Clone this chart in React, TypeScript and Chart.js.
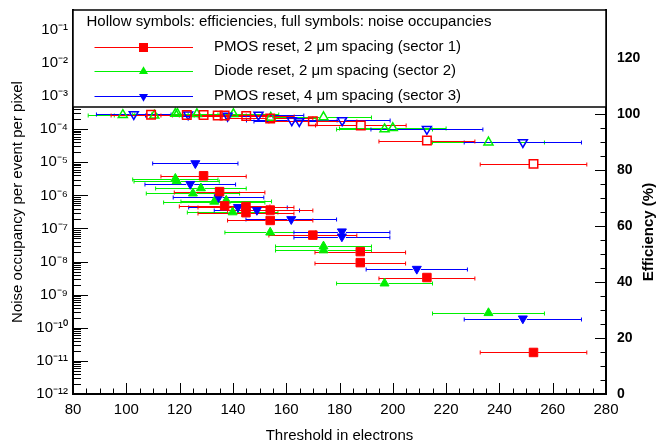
import React, { useEffect, useRef } from 'react';
import { Chart, registerables } from 'chart.js';

Chart.register(...registerables);

const FONT = "'Liberation Sans', Arial, Helvetica, sans-serif";

// ---- axis ticks ----
const xTickValues = [80, 100, 120, 140, 160, 180, 200, 220, 240, 260, 280];
const noiseTickExponents = [-12, -11, -10, -9, -8, -7, -6, -5, -4, -3, -2, -1];
const effTickValues = [0, 20, 40, 60, 80, 100, 120];

// ---- sector 1: PMOS reset, 2 um ----
const redNoiseX = [129, 135, 136.9, 144.9, 144.9, 154, 154, 170, 187.8, 187.8, 212.8, 252.8];
const redNoiseErr = [16, 17, 17, 18, 18, 16, 16, 16.5, 17, 17, 18, 20];
const redNoise = [3.9e-6, 1.3e-6, 4.8e-7, 4.6e-7, 3.0e-7, 3.6e-7, 1.75e-7, 6.3e-8, 2.0e-8, 9.3e-9, 3.3e-9, 1.8e-11];
const redEffX = [109.3, 122.7, 129, 134.3, 136.9, 145, 154, 170, 188, 212.8, 252.8];
const redEffErr = [15, 15, 16, 17, 17, 18, 16, 16.5, 17, 18, 20];
const redEff = [99.6, 99.5, 99.5, 99.4, 99.4, 99.2, 98.3, 97.3, 95.8, 90.4, 82.1];

// ---- sector 2: Diode reset, 2 um ----
const greenNoiseX = [118.4, 118.9, 128, 125, 133, 137.5, 139.9, 154, 174, 174, 196.9, 235.9];
const greenNoiseErr = [16, 16, 17, 17.5, 19, 17, 17, 17, 18, 18, 18, 21];
const greenNoise = [3.2e-6, 2.7e-6, 1.65e-6, 1.15e-6, 6.5e-7, 7.0e-7, 3.1e-7, 7.6e-8, 2.9e-8, 2.2e-8, 2.2e-9, 2.8e-10];
const greenEffX = [98.7, 110.5, 118.4, 119.2, 126.5, 140.2, 154.2, 174, 196.9, 200, 235.9];
const greenEffErr = [13, 15, 16, 16, 17, 17, 17, 18, 18, 20, 21];
const greenEff = [99.6, 99.4, 100, 100, 99.9, 99.9, 98.6, 98.8, 94.5, 94.9, 89.8];

// ---- sector 3: PMOS reset, 4 um ----
const blueNoiseX = [125.9, 124, 134.6, 141.9, 149, 161.9, 180.9, 180.9, 209, 248.8];
const blueNoiseErr = [16, 17, 17, 18.5, 16, 17, 18, 18, 19, 22];
const blueNoise = [9.3e-6, 2.2e-6, 8.7e-7, 4.4e-7, 3.6e-7, 1.9e-7, 8.1e-8, 5.7e-8, 6.0e-9, 1.9e-10];
const blueEffX = [102.8, 123.2, 138, 149.6, 162.1, 164.9, 181, 212.8, 248.8];
const blueEffErr = [14, 16, 17, 17, 17, 17, 18, 21, 22];
const blueEff = [99.8, 99.7, 99.2, 99.6, 97.6, 97.3, 97.6, 94.5, 89.8];

const legendHeader = 'Hollow symbols: efficiencies, full symbols: noise occupancies';
const seriesLabels = [
  'PMOS reset, 2 \u03bcm spacing (sector 1)',
  'Diode reset, 2 \u03bcm spacing (sector 2)',
  'PMOS reset, 4 \u03bcm spacing (sector 3)',
];

const RED = '#ff0000';
const GREEN = '#00f000';
const BLUE = '#0000ff';

type Pt = { x: number; y: number; xErr: number };
const mk = (xs: number[], errs: number[], ys: number[]): Pt[] =>
  xs.map((x, i) => ({ x, y: ys[i], xErr: errs[i] }));

const SUP: Record<string, string> = {
  '-': '\u207b', '0': '\u2070', '1': '\u00b9', '2': '\u00b2', '3': '\u00b3',
  '4': '\u2074', '5': '\u2075', '6': '\u2076', '7': '\u2077', '8': '\u2078', '9': '\u2079',
};
const sup = (n: number) => String(n).split('').map((c) => SUP[c] || c).join('');

const legendMarkers = [
  { color: RED, style: 'rect' },
  { color: GREEN, style: 'triUp' },
  { color: BLUE, style: 'triDown' },
];

function drawMarker(ctx: CanvasRenderingContext2D, style: string, x: number, y: number, color: string) {
  ctx.fillStyle = color;
  ctx.beginPath();
  if (style === 'rect') {
    ctx.rect(x - 4.5, y - 4.5, 9, 9);
  } else {
    const r = 5.2;
    const dir = style === 'triUp' ? 1 : -1;
    for (let k = 0; k < 3; k++) {
      const a = (k * 2 * Math.PI) / 3;
      const px = x + Math.sin(a) * r;
      const py = y - dir * Math.cos(a) * r;
      if (k === 0) ctx.moveTo(px, py);
      else ctx.lineTo(px, py);
    }
    ctx.closePath();
  }
  ctx.fill();
}

const errorBarPlugin = {
  id: 'xErrorBars',
  beforeDatasetsDraw(chart: any) {
    const { ctx, chartArea } = chart;
    const xs = chart.scales.x;
    ctx.save();
    ctx.beginPath();
    ctx.rect(chartArea.left, chartArea.top, chartArea.right - chartArea.left, chartArea.bottom - chartArea.top);
    ctx.clip();
    const dsets = chart.data.datasets;
    for (let di = dsets.length - 1; di >= 0; di--) {
      const ds = dsets[di];
      const ys = chart.scales[ds.yAxisID];
      ctx.strokeStyle = ds.borderColor;
      ctx.lineWidth = 1;
      const gap = ds.gap;
      ctx.beginPath();
      (ds.data as Pt[]).forEach((p) => {
        const px = xs.getPixelForValue(p.x);
        const lo = xs.getPixelForValue(p.x - p.xErr);
        const hi = xs.getPixelForValue(p.x + p.xErr);
        const py = Math.round(ys.getPixelForValue(p.y)) + 0.5;
        ctx.moveTo(lo, py);
        ctx.lineTo(px - gap, py);
        ctx.moveTo(px + gap, py);
        ctx.lineTo(hi, py);
        ctx.moveTo(lo, py - 2);
        ctx.lineTo(lo, py + 2);
        ctx.moveTo(hi, py - 2);
        ctx.lineTo(hi, py + 2);
      });
      ctx.stroke();
    }
    ctx.restore();
  },
};

const tickPlugin = {
  id: 'insideTicks',
  afterDatasetsDraw(chart: any) {
    const { ctx, chartArea: ca, scales } = chart;
    ctx.save();
    ctx.strokeStyle = '#000';
    ctx.lineWidth = 1;
    ctx.beginPath();
    const xMinor = 5;
    for (let v = scales.x.min; v <= scales.x.max + 1e-9; v += xMinor) {
      const px = Math.round(scales.x.getPixelForValue(v)) + 0.5;
      const len = v % 20 === 0 ? 11 : 5.5;
      ctx.moveTo(px, ca.bottom);
      ctx.lineTo(px, ca.bottom - len);
    }
    const yMax = scales.y.max;
    for (const e of noiseTickExponents) {
      for (let k = 1; k <= 9; k++) {
        const v = k * Math.pow(10, e);
        if (v > yMax) break;
        const py = Math.round(scales.y.getPixelForValue(v)) + 0.5;
        const len = k === 1 ? 15 : 8;
        ctx.moveTo(ca.left, py);
        ctx.lineTo(ca.left + len, py);
      }
    }
    const effMinor = 5;
    for (let v = 0; v <= scales.y2.max; v += effMinor) {
      const py = Math.round(scales.y2.getPixelForValue(v)) + 0.5;
      const len = v % 20 === 0 ? 11 : 5.5;
      ctx.moveTo(ca.right, py);
      ctx.lineTo(ca.right - len, py);
    }
    ctx.stroke();
    ctx.restore();
  },
};

const legendPlugin = {
  id: 'boxLegend',
  afterDraw(chart: any) {
    const { ctx, chartArea: ca } = chart;
    const top = ca.top;
    const bottom = ca.top + 97;
    ctx.save();
    ctx.fillStyle = '#fff';
    ctx.fillRect(ca.left, top, ca.right - ca.left, bottom - top);
    ctx.strokeStyle = '#000';
    ctx.lineWidth = 1.5;
    ctx.strokeRect(ca.left, top, ca.right - ca.left, bottom - top);
    ctx.fillStyle = '#000';
    ctx.font = `15px ${FONT}`;
    ctx.textBaseline = 'middle';
    ctx.textAlign = 'left';
    ctx.fillText(legendHeader, ca.left + 13.5, top + 12);
    const rowY = [top + 36.5, top + 61, top + 86];
    seriesLabels.forEach((lab, i) => {
      const m = legendMarkers[i];
      const y = rowY[i];
      ctx.strokeStyle = m.color;
      ctx.lineWidth = 1;
      ctx.beginPath();
      ctx.moveTo(ca.left + 21.5, Math.round(y) + 0.5);
      ctx.lineTo(ca.left + 120, Math.round(y) + 0.5);
      ctx.stroke();
      drawMarker(ctx, m.style, ca.left + 70.5, Math.round(y) + 0.5, m.color);
      ctx.fillStyle = '#000';
      ctx.fillText(lab, ca.left + 141, y);
    });
    // right axis title
    ctx.save();
    ctx.translate(649, 232);
    ctx.rotate(-Math.PI / 2);
    ctx.font = `bold 15px ${FONT}`;
    ctx.textAlign = 'center';
    ctx.textBaseline = 'middle';
    ctx.fillText('Efficiency (%)', 0, 0);
    ctx.restore();
    ctx.restore();
  },
};

const noPadV = (s: any) => { s.paddingTop = 0; s.paddingBottom = 0; };

export default function App() {
  const ref = useRef<HTMLCanvasElement | null>(null);

  useEffect(() => {
    if (!ref.current) return;
    const specs = [
      { color: RED, style: 'rect', rot: 0, r: 6, gap: 4.5, noise: mk(redNoiseX, redNoiseErr, redNoise), eff: mk(redEffX, redEffErr, redEff) },
      { color: BLUE, style: 'triangle', rot: 180, r: 5.2, gap: 4, noise: mk(blueNoiseX, blueNoiseErr, blueNoise), eff: mk(blueEffX, blueEffErr, blueEff) },
      { color: GREEN, style: 'triangle', rot: 0, r: 5.2, gap: 4, noise: mk(greenNoiseX, greenNoiseErr, greenNoise), eff: mk(greenEffX, greenEffErr, greenEff) },
    ];
    const datasets: any[] = [];
    specs.forEach((s) => {
      datasets.push({
        data: s.noise, yAxisID: 'y', pointStyle: s.style, pointRotation: s.rot, pointRadius: s.r,
        backgroundColor: s.color, borderColor: s.color, borderWidth: 1, gap: s.gap, showLine: false,
      });
      datasets.push({
        data: s.eff, yAxisID: 'y2', pointStyle: s.style, pointRotation: s.rot, pointRadius: s.r,
        backgroundColor: 'rgba(0,0,0,0)', borderColor: s.color, borderWidth: 1.5, gap: s.gap, showLine: false,
      });
    });

    const chart = new Chart(ref.current, {
      type: 'scatter',
      data: { datasets },
      plugins: [errorBarPlugin, tickPlugin, legendPlugin],
      options: {
        responsive: false,
        animation: false,
        events: [],
        layout: { padding: { top: 10, left: 0, right: 0, bottom: 0 } },
        plugins: { legend: { display: false }, tooltip: { enabled: false } },
        scales: {
          x: {
            type: 'linear',
            position: 'bottom',
            min: 80,
            max: 280,
            afterBuildTicks: (s: any) => { s.ticks = xTickValues.map((v) => ({ value: v })); },
            afterFit: (s: any) => { s.height = 51; s.paddingLeft = 0; s.paddingRight = 0; },
            grid: { display: false, drawTicks: false },
            border: { display: true, color: '#000', width: 2 },
            ticks: { color: '#000', font: { family: FONT, size: 15 }, padding: 7, maxRotation: 0, autoSkip: false },
            title: { display: true, text: 'Threshold in electrons', color: '#000', font: { family: FONT, size: 15 }, padding: { top: 0, bottom: 0 } },
          },
          y: {
            type: 'logarithmic',
            position: 'left',
            min: 1e-12,
            max: Math.pow(10, -0.4),
            afterBuildTicks: (s: any) => { s.ticks = noiseTickExponents.map((e) => ({ value: Math.pow(10, e) })); },
            afterFit: (s: any) => { s.width = 73; noPadV(s); },
            grid: { display: false, drawTicks: false },
            border: { display: true, color: '#000', width: 2 },
            ticks: {
              color: '#000', font: { family: FONT, size: 15 }, padding: 5, autoSkip: false,
              callback: (v: any) => '10' + sup(Math.round(Math.log10(Number(v)))),
            },
            title: { display: true, text: 'Noise occupancy per event per pixel', color: '#000', font: { family: FONT, size: 15 }, padding: { top: 9, bottom: 0 } },
          },
          y2: {
            type: 'linear',
            position: 'right',
            min: 0,
            max: 137,
            afterBuildTicks: (s: any) => { s.ticks = effTickValues.map((v) => ({ value: v })); },
            afterFit: (s: any) => { s.width = 53; noPadV(s); },
            grid: { display: false, drawTicks: false },
            border: { display: true, color: '#000', width: 2 },
            ticks: { color: '#000', font: { family: FONT, size: 14, weight: 'bold' }, padding: 11, autoSkip: false },
            title: { display: false },
          },
        },
      } as any,
    });
    return () => chart.destroy();
  }, []);

  return (
    <div style={{ position: 'absolute', left: 0, top: 0, width: 659, height: 445, background: '#fff', overflow: 'hidden' }}>
      <canvas ref={ref} width={659} height={445} style={{ display: 'block', width: 659, height: 445 }} />
    </div>
  );
}
